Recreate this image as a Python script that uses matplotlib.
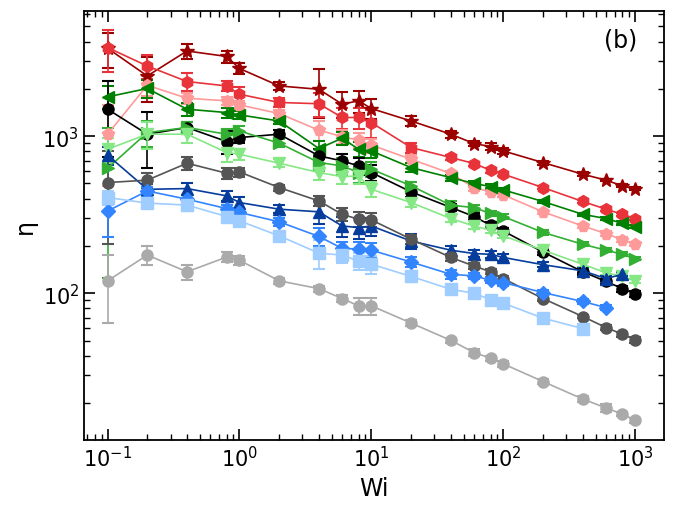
import matplotlib
matplotlib.use("Agg")
import matplotlib.pyplot as plt
from matplotlib.ticker import LogLocator, NullFormatter

# Weissenberg numbers (shared x values)
wi = [0.1, 0.2, 0.4, 0.8, 1, 2, 4, 6, 8, 10, 20, 40, 60, 80, 100, 200, 400, 600, 800, 1000]

# viscosity series (top to bottom at Wi = 0.1) and their error bars
eta_star = [3630, 2420, 3490, 3220, 2700, 2090, 1990, 1600, 1680, 1500, 1250, 1030, 898, 859, 806, 679, 573, 525, 483, 464]
err_star = [900, 760, 400, 280, 220, 130, 680, 300, 270, 220, 90, 50, 30, 40, 30, 20, 15, 10, 10, 10]

eta_hex = [3670, 2800, 2230, 2090, 1850, 1640, 1610, 1316, 1316, 1220, 847, 732, 670, 607, 573, 471, 384, 343, 318, 299]
err_hex = [1100, 500, 300, 150, 200, 100, 275, 200, 200, 250, 60, 30, 20, 20, 15, 10, 10, 10, 8, 8]

eta_pent = [1030, 2110, 1745, 1680, 1582, 1395, 1092, 995, 943, 877, 714, 579, 471, 442, 423, 330, 268, 240, 219, 205]
err_pent = [550, 300, 150, 100, 100, 80, 160, 100, 100, 90, 40, 25, 20, 15, 15, 10, 8, 8, 8, 6]

eta_left = [1780, 2014, 1486, 1415, 1367, 1250, 835, 971, 826, 806, 631, 545, 500, 478, 455, 384, 318, 299, 279, 266]
err_left = [300, 250, 150, 100, 80, 60, 100, 90, 90, 80, 40, 25, 20, 15, 15, 10, 8, 8, 8, 6]

eta_black = [1486, 1030, 1136, 925, 981, 1030, 750, 696, 647, 587, 442, 352, 308, 271, 249, 183, 137, 119, 107, 98.6]
err_black = [745, 400, 100, 150, 80, 60, 80, 80, 80, 70, 30, 20, 15, 12, 10, 8, 6, 5, 5, 4]

eta_right = [625, 1055, 1136, 1030, 1080, 903, 680, 647, 587, 617, 483, 364, 351, 322, 308, 244, 205, 188, 177, 166]
err_right = [500, 200, 100, 80, 80, 50, 80, 80, 80, 70, 30, 20, 15, 10, 10, 8, 6, 5, 5, 4]

eta_down = [826, 1030, 1030, 787, 768, 673, 587, 553, 558, 459, 378, 299, 268, 252, 232, 188, 153, 135, 128, 120]
err_down = [150, 200, 120, 100, 60, 40, 60, 60, 60, 50, 25, 15, 10, 10, 8, 6, 5, 4, 4, 4]

eta_up = [757, 459, 464, 417, 378, 343, 330, 268, 262, 268, 215, 188, 179, 177, 169, 152, 139, 124, 132]
err_up = [100, 40, 40, 30, 30, 20, 55, 40, 40, 35, 25, 12, 10, 10, 8, 6, 5, 4, 4]

eta_dgray = [507, 525, 673, 581, 592, 471, 387, 318, 296, 293, 221, 169, 149, 137, 124, 92.5, 71.1, 60.5, 54.8, 50.5]
err_dgray = [300, 60, 65, 50, 40, 20, 30, 30, 31, 30, 15, 8, 6, 5, 5, 3, 2, 2, 2, 2]

eta_diam = [334, 448, 397, 346, 327, 285, 230, 193, 191, 188, 158, 132, 129, 121, 117, 101, 88.6, 81]
err_diam = [107, 30, 25, 20, 20, 15, 30, 20, 20, 20, 12, 8, 6, 5, 5, 4, 3, 3]

eta_sq = [407, 375, 364, 308, 289, 232, 180, 175, 160, 153, 128, 106, 100, 91, 86.5, 69.4, 59.6]
err_sq = [40, 25, 30, 20, 20, 12, 38, 20, 20, 20, 10, 6, 5, 4, 4, 3, 3]

eta_lgray = [120, 175, 137, 170, 162, 120, 107, 92.5, 83.1, 83.1, 64.6, 50.1, 41.9, 38.6, 35.5, 27.4, 21.2, 18.6, 17.0, 15.5]
err_lgray = [55, 24, 15, 12, 10, 5, 5, 5, 10, 10, 3, 2, 2, 1.5, 1.5, 1, 1, 1, 0.5, 0.5]

series = [
    (eta_star, err_star, "*", "#9b0000", 10),
    (eta_hex, err_hex, "h", "#e8333a", 8.5),
    (eta_pent, err_pent, "p", "#ff9a9a", 8.5),
    (eta_left, err_left, "<", "#008000", 8.5),
    (eta_black, err_black, "o", "#000000", 8),
    (eta_right, err_right, ">", "#33b033", 8.5),
    (eta_down, err_down, "v", "#85e885", 8.5),
    (eta_up, err_up, "^", "#063d9c", 8.5),
    (eta_dgray, err_dgray, "o", "#555555", 8),
    (eta_diam, err_diam, "D", "#3385ff", 7.5),
    (eta_sq, err_sq, "s", "#9fcdff", 8),
    (eta_lgray, err_lgray, "o", "#aaaaaa", 8),
]

fig = plt.figure(figsize=(6.73, 5.10), dpi=100)
ax = fig.add_axes([0.125, 0.135, 0.862, 0.841])

for vals, errs, m, c, ms in series:
    n = len(vals)
    ax.errorbar(wi[:n], vals, yerr=errs, fmt=m + "-", color=c, ms=ms,
                lw=1.2, elinewidth=1.2, capsize=4, capthick=1.5)

ax.set_xscale("log")
ax.set_yscale("log")
ax.set_xlim(0.0664, 1660)
ax.set_ylim(11.6, 6250)

ax.xaxis.set_minor_locator(LogLocator(base=10, subs=range(2, 10), numticks=20))
ax.yaxis.set_minor_locator(LogLocator(base=10, subs=range(2, 10), numticks=20))
ax.xaxis.set_minor_formatter(NullFormatter())
ax.yaxis.set_minor_formatter(NullFormatter())

ax.tick_params(which="both", direction="in", top=True, right=True, labelsize=15)
ax.tick_params(which="major", length=8, width=1.2)
ax.tick_params(which="minor", length=4.5, width=1)
for sp in ax.spines.values():
    sp.set_linewidth(1.3)

ax.set_xlabel("Wi", fontsize=17)
ax.set_ylabel("η", fontsize=17)
ax.text(0.924, 0.935, "(b)", transform=ax.transAxes, fontsize=17,
        ha="center", va="center")

plt.savefig("out.png", dpi=100)
